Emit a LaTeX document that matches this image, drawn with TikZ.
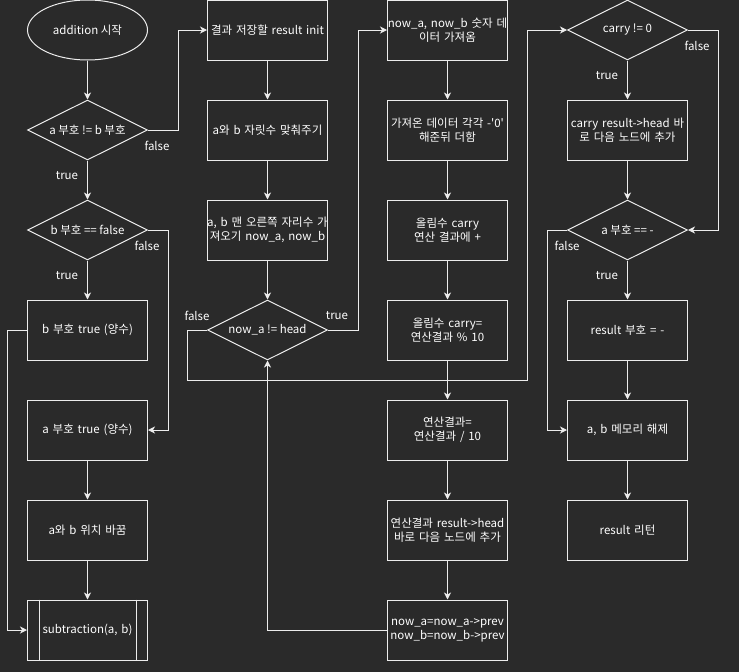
\documentclass[tikz,border=0pt]{standalone}
\usepackage{fontspec}
\setmainfont{Noto Sans CJK KR}
\usetikzlibrary{shapes.geometric,arrows.meta}
\definecolor{bgdark}{HTML}{2A2A2A}
\definecolor{strokecol}{HTML}{EDEDED}
\begin{document}
\begin{tikzpicture}[x=1pt,y=-1pt,
	every node/.style={text=white, font=\fontsize{11.5}{14}\selectfont},
	proc/.style={draw=strokecol, line width=1pt, rectangle, minimum width=120pt, minimum height=60pt, text width=126pt, align=center, inner xsep=-3pt, inner ysep=0pt},
	cond/.style={draw=strokecol, line width=1pt, diamond, aspect=2, minimum width=120pt, minimum height=60pt, inner sep=0pt},
	term/.style={draw=strokecol, line width=1pt, ellipse, minimum width=120pt, minimum height=60pt, inner sep=0pt},
	arr/.style={draw=strokecol, line width=1pt, -{Stealth[length=7pt,width=7pt,inset=2pt]}},
	lbl/.style={inner sep=0pt}]
	\fill[bgdark] (0,0) rectangle (739,672);
	\useasboundingbox (0,0) rectangle (739,672);
	% left column
	\node[term] (start) at (87.5,30) {addition 시작};
	\node[cond] (signne) at (87.5,130) {a 부호 != b 부호};
	\node[cond] (bneg) at (87.5,230) {b 부호 == false};
	\node[proc] (bpos) at (87.5,330) {b 부호 true (양수)};
	\node[proc] (apos) at (87.5,430) {a 부호 true (양수)};
	\node[proc] (swap) at (87.5,530) {a와 b 위치 바꿈};
	\node[proc] (sub) at (87.5,630) {subtraction(a, b)};
	\draw[strokecol, line width=1pt] ([xshift=12pt]sub.north west) -- ([xshift=12pt]sub.south west);
	\draw[strokecol, line width=1pt] ([xshift=-12pt]sub.north east) -- ([xshift=-12pt]sub.south east);
	% second column
	\node[proc] (init) at (267.5,30) {결과 저장할 result init};
	\node[proc] (align) at (267.5,130) {a와 b 자릿수 맞춰주기};
	\node[proc] (fetch) at (267.5,230) {a, b 맨 오른쪽 자리수 가\\져오기 now\_a, now\_b};
	\node[cond] (loop) at (267.5,330) {now\_a != head};
	% third column
	\node[proc] (digit) at (447.5,30) {now\_a, now\_b 숫자 데\\이터 가져옴};
	\node[proc] (sum) at (447.5,130) {가져온 데이터 각각 -\textquotesingle0\textquotesingle\\해준뒤 더함};
	\node[proc] (addc) at (447.5,230) {올림수 carry\\연산 결과에 +};
	\node[proc] (newc) at (447.5,330) {올림수 carry=\\연산결과 \% 10};
	\node[proc] (div) at (447.5,430) {연산결과=\\연산결과 / 10};
	\node[proc] (push) at (447.5,530) {연산결과 result->head\\바로 다음 노드에 추가};
	\node[proc] (prev) at (447.5,630) {now\_a=now\_a->prev\\now\_b=now\_b->prev};
	% right column
	\node[cond] (carry) at (627.5,30) {carry != 0};
	\node[proc] (pushc) at (627.5,130) {carry result->head 바\\로 다음 노드에 추가};
	\node[cond] (aneg) at (627.5,230) {a 부호 == -};
	\node[proc] (rneg) at (627.5,330) {result 부호 = -};
	\node[proc] (free) at (627.5,430) {a, b 메모리 해제};
	\node[proc] (ret) at (627.5,530) {result 리턴};

	\draw[arr] (start) -- (signne);
	\draw[arr] (signne.east) -- ++(30,0) |- (init.west);
	\draw[arr] (signne) -- (bneg);
	\draw[arr] (bneg.east) -- ++(20,0) |- (apos.east);
	\draw[arr] (bneg) -- (bpos);
	\draw[arr] (bpos.west) -- ++(-20,0) |- (sub.west);
	\draw[arr] (apos) -- (swap);
	\draw[arr] (swap) -- (sub);
	\node[lbl] at (157,146) {false};
	\node[lbl] at (67,176) {true};
	\node[lbl] at (147,246) {false};
	\node[lbl] at (67,276) {true};

	\draw[arr] (init) -- (align);
	\draw[arr] (align) -- (fetch);
	\draw[arr] (fetch) -- (loop);
	\draw[arr] (loop.east) -- ++(30,0) |- (digit.west);
	\draw[arr] (loop.west) -- ++(-20,0) -- ++(0,50) -- ++(340,0) |- (carry.west);
	\node[lbl] at (197,316) {false};
	\node[lbl] at (337,316) {true};

	\draw[arr] (digit) -- (sum);
	\draw[arr] (sum) -- (addc);
	\draw[arr] (addc) -- (newc);
	\draw[arr] (newc) -- (div);
	\draw[arr] (div) -- (push);
	\draw[arr] (push) -- (prev);
	\draw[arr] (prev.west) -| (loop.south);

	\draw[arr] (carry) -- (pushc);
	\draw[arr] (carry.east) -- ++(30,0) |- (aneg.east);
	\draw[arr] (pushc) -- (aneg);
	\draw[arr] (aneg.west) -- ++(-20,0) |- (free.west);
	\draw[arr] (aneg) -- (rneg);
	\draw[arr] (rneg) -- (free);
	\draw[arr] (free) -- (ret);
	\node[lbl] at (607,76) {true};
	\node[lbl] at (697,46) {false};
	\node[lbl] at (567,246) {false};
	\node[lbl] at (607,276) {true};
\end{tikzpicture}
\end{document}
